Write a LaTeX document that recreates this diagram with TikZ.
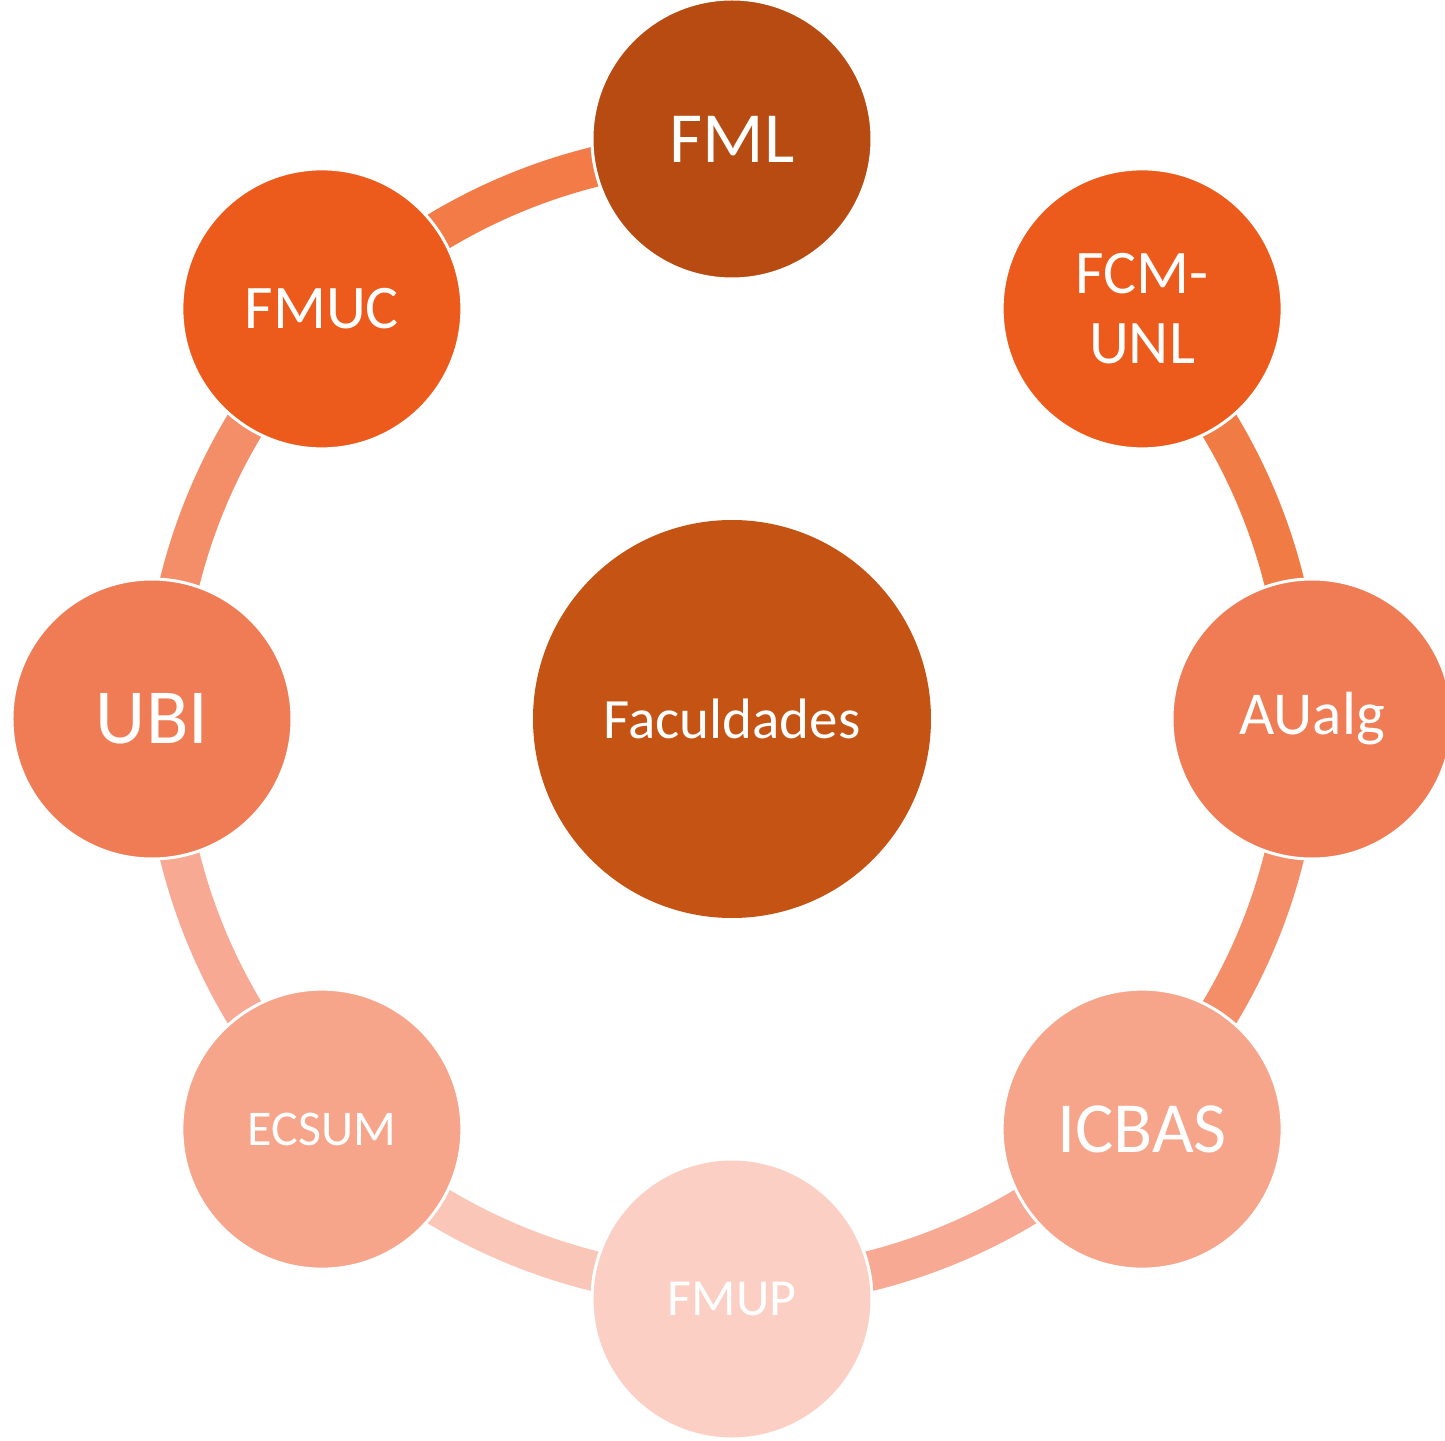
\documentclass[tikz,border=0pt]{standalone}
\usepackage{fontspec}
\setmainfont{Carlito}
\usetikzlibrary{backgrounds}

\definecolor{hubfill}{HTML}{C55314}
\definecolor{fmlfill}{HTML}{B74B12}
\definecolor{deepfill}{HTML}{EC5A1C}
\definecolor{midfill}{HTML}{F07C55}
\definecolor{lightfill}{HTML}{F6A48A}
\definecolor{palefill}{HTML}{FBCFC4}
\definecolor{arcA}{HTML}{F27B47}
\definecolor{arcB}{HTML}{F48E69}
\definecolor{arcC}{HTML}{F8A993}
\definecolor{arcD}{HTML}{FAC6B8}
\definecolor{arcE}{HTML}{F07B45}

\begin{document}
\begin{tikzpicture}[x=1pt,y=1pt,every node/.style={circle,text=white,align=center,inner sep=0pt},
  faculty/.style={minimum size=280pt,draw=white,line width=3pt},
  ring/.style={line width=40pt}]
\useasboundingbox (-732,-721) rectangle (713,719);
\node[fill=hubfill, minimum size=398pt, font=\fontsize{57}{64}\selectfont] (hub) at (0,0) {Faculdades};
\node[faculty, fill=fmlfill, font=\fontsize{72}{80}\selectfont] (fml) at (90:580) {FML};
\node[faculty, fill=deepfill, font=\fontsize{62}{70}\selectfont] (fcm) at (45:580) {FCM-\\UNL};
\node[faculty, fill=midfill, font=\fontsize{61}{70}\selectfont] (ualg) at (0:580) {AUalg};
\node[faculty, fill=lightfill, font=\fontsize{72}{80}\selectfont] (icbas) at (-45:580) {ICBAS};
\node[faculty, fill=palefill, font=\fontsize{52}{60}\selectfont] (fmup) at (-90:580) {FMUP};
\node[faculty, fill=lightfill, font=\fontsize{50}{60}\selectfont] (ecsum) at (-135:580) {ECSUM};
\node[faculty, fill=midfill, font=\fontsize{78}{90}\selectfont] (ubi) at (180:580) {UBI};
\node[faculty, fill=deepfill, font=\fontsize{62}{70}\selectfont] (fmuc) at (135:580) {FMUC};
% ring segments behind the circles
\begin{pgfonlayer}{background}
\draw[ring, arcA] (hub.center) ++(90:569) arc[start angle=90, end angle=135, radius=569pt];
\draw[ring, arcB] (hub.center) ++(135:569) arc[start angle=135, end angle=180, radius=569pt];
\draw[ring, arcC] (hub.center) ++(180:569) arc[start angle=180, end angle=225, radius=569pt];
\draw[ring, arcD] (hub.center) ++(225:569) arc[start angle=225, end angle=270, radius=569pt];
\draw[ring, arcC] (hub.center) ++(270:569) arc[start angle=270, end angle=315, radius=569pt];
\draw[ring, arcB] (hub.center) ++(315:569) arc[start angle=315, end angle=360, radius=569pt];
\draw[ring, arcE] (hub.center) ++(0:569) arc[start angle=0, end angle=45, radius=569pt];
\end{pgfonlayer}
\end{tikzpicture}
\end{document}
